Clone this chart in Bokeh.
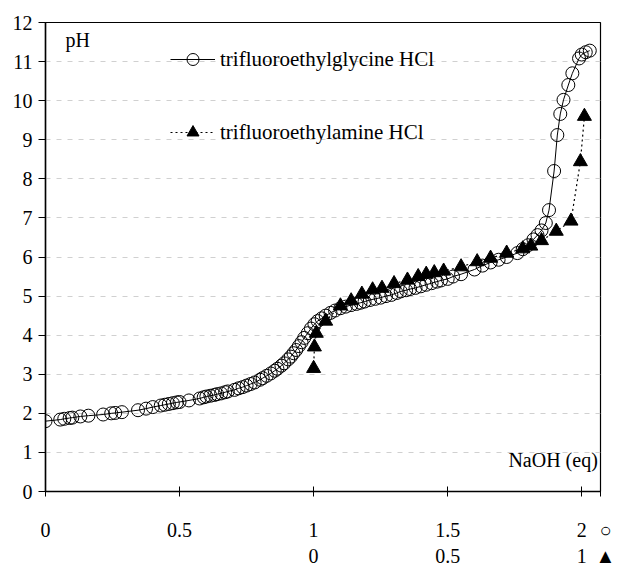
from bokeh.plotting import figure
from bokeh.models import (Range1d, LinearAxis, FixedTicker, CustomJSTickFormatter,
                          Legend, LegendItem, Label)
from bokeh.embed import file_html
from bokeh.resources import INLINE

# trifluoroethylglycine HCl (x = NaOH eq, bottom scale 0..2)
gly_x = [0.0, 0.055, 0.07, 0.09, 0.10, 0.13, 0.16, 0.215, 0.245, 0.26, 0.285, 0.345,
         0.375, 0.40, 0.43, 0.445, 0.46, 0.475, 0.49, 0.50, 0.535, 0.575, 0.59, 0.60,
         0.615, 0.63, 0.64, 0.655, 0.67, 0.68, 0.705, 0.72, 0.735, 0.75, 0.765, 0.78,
         0.80, 0.81, 0.825, 0.84, 0.855, 0.865, 0.88, 0.89, 0.905, 0.915, 0.925, 0.935,
         0.945, 0.955, 0.965, 0.978, 0.99, 1.003, 1.015, 1.03, 1.045, 1.063, 1.08, 1.10,
         1.12, 1.14, 1.16, 1.175, 1.19, 1.21, 1.23, 1.25, 1.27, 1.29, 1.31, 1.325, 1.345,
         1.36, 1.38, 1.40, 1.42, 1.44, 1.46, 1.475, 1.50, 1.52, 1.55, 1.60, 1.63, 1.66,
         1.69, 1.72, 1.76, 1.78, 1.80, 1.82, 1.835, 1.85, 1.866, 1.878, 1.897, 1.909,
         1.92, 1.932, 1.95, 1.965, 1.99, 2.0, 2.015, 2.03]
gly_ph = [1.80, 1.84, 1.86, 1.88, 1.89, 1.92, 1.94, 1.97, 2.0, 2.01, 2.03, 2.08,
          2.12, 2.16, 2.2, 2.22, 2.24, 2.26, 2.28, 2.29, 2.33, 2.38, 2.41, 2.43,
          2.45, 2.47, 2.49, 2.51, 2.54, 2.56, 2.6, 2.64, 2.67, 2.71, 2.75, 2.79,
          2.86, 2.9, 2.96, 3.02, 3.09, 3.14, 3.22, 3.28, 3.38, 3.45, 3.54, 3.62,
          3.72, 3.82, 3.93, 4.05, 4.17, 4.28, 4.36, 4.43, 4.5, 4.57, 4.63, 4.69,
          4.73, 4.77, 4.8, 4.83, 4.86, 4.9, 4.93, 4.96, 5.0, 5.03, 5.08, 5.12, 5.15,
          5.18, 5.21, 5.25, 5.29, 5.33, 5.37, 5.40, 5.44, 5.5, 5.56, 5.68, 5.78, 5.86,
          5.93, 6.0, 6.1, 6.2, 6.3, 6.45, 6.56, 6.68, 6.87, 7.2, 8.2, 9.12,
          9.66, 10.02, 10.4, 10.7, 11.08, 11.18, 11.24, 11.28]

# trifluoroethylamine HCl (x = NaOH eq, lower scale 0..1)
ami_x = [0.0, 0.003, 0.01, 0.045, 0.10, 0.14, 0.18, 0.22, 0.255, 0.30, 0.35, 0.39,
         0.42, 0.45, 0.485, 0.55, 0.61, 0.66, 0.72, 0.78, 0.81, 0.85, 0.905, 0.96,
         0.995, 1.01]
ami_ph = [3.15, 3.70, 4.05, 4.36, 4.75, 4.88, 5.05, 5.16, 5.20, 5.32, 5.41, 5.50,
          5.56, 5.60, 5.64, 5.75, 5.88, 5.97, 6.10, 6.21, 6.28, 6.42, 6.66, 6.92,
          8.44, 9.60]

x_ticks = [0, 0.5, 1, 1.5, 2]
x2_ticks = [0, 0.5, 1]
y_ticks = list(range(0, 13))
scale_marks = ["○", "▲"]   # symbols that identify each x scale

FONT = "Liberation Serif"
FS = "20px"
X_END = 2.07
X2_OFFSET = 1.0

p = figure(width=617, height=569, output_backend="svg", toolbar_location=None,
           x_range=Range1d(0, X_END), y_range=Range1d(0, 12),
           min_border_left=45, min_border_top=22, min_border_right=17, min_border_bottom=76,
           x_axis_type=None)
p.extra_x_ranges = {"tri": Range1d(-X2_OFFSET, X_END - X2_OFFSET)}


def make_fmt(mark, end):
    return CustomJSTickFormatter(args=dict(mark=mark, end=end),
                                 code="return tick >= end - 1e-9 ? '\u2002' + mark : String(tick);")


ax1 = LinearAxis(ticker=FixedTicker(ticks=x_ticks + [X_END]),
                 formatter=make_fmt(scale_marks[0], X_END))
ax1.major_tick_in = 5
ax1.major_tick_out = 5
ax1.minor_tick_line_color = None
ax1.axis_line_width = 1.5
ax1.major_label_standoff = 22
ax1.major_label_text_font = FONT
ax1.major_label_text_font_size = FS
ax1.major_label_text_color = "black"
p.add_layout(ax1, "below")

ax2 = LinearAxis(x_range_name="tri",
                 ticker=FixedTicker(ticks=x2_ticks + [X_END - X2_OFFSET]),
                 formatter=make_fmt(scale_marks[1], X_END - X2_OFFSET))
ax2.axis_line_color = None
ax2.major_tick_line_color = None
ax2.minor_tick_line_color = None
ax2.major_label_standoff = -5
ax2.major_label_text_font = FONT
ax2.major_label_text_font_size = FS
ax2.major_label_text_color = "black"
p.add_layout(ax2, "below")

ya = p.yaxis[0]
ya.ticker = FixedTicker(ticks=y_ticks)
ya.major_tick_in = 0
ya.major_tick_out = 7
ya.minor_tick_line_color = None
ya.axis_line_width = 1.5
ya.major_label_standoff = 6
ya.major_label_text_font = FONT
ya.major_label_text_font_size = FS
ya.major_label_text_color = "black"

p.xgrid.grid_line_color = None
p.ygrid.grid_line_color = "#d0d0d0"
p.ygrid.grid_line_dash = "5 6"
p.ygrid.grid_line_width = 1
p.outline_line_color = "black"
p.outline_line_width = 1.2

l1 = p.line(gly_x, gly_ph, line_color="black", line_width=1)
s1 = p.scatter(gly_x, gly_ph, marker="circle", size=13, fill_color=None,
               line_color="black", line_width=1)
l2 = p.line(ami_x, ami_ph, x_range_name="tri", line_color="black", line_width=1.2,
            line_dash="2 3")
s2 = p.scatter(ami_x, ami_ph, x_range_name="tri", marker="triangle", size=14,
               fill_color="black", line_color="black")

legend = Legend(items=[LegendItem(label="trifluoroethylglycine HCl", renderers=[l1, s1]),
                       LegendItem(label="trifluoroethylamine HCl", renderers=[l2, s2])],
                location=(125, 344), glyph_width=45, glyph_height=30, label_standoff=5,
                spacing=43, padding=0, margin=0, border_line_color=None,
                background_fill_alpha=0, label_text_font=FONT, label_text_font_size="21px",
                label_text_color="black")
p.add_layout(legend)

p.add_layout(Label(x=0.075, y=11.55, text="pH", text_font=FONT, text_font_size=FS,
                   text_baseline="middle", text_color="black"))
p.add_layout(Label(x=2.06, y=0.8, text="NaOH (eq)", text_font=FONT, text_font_size=FS,
                   text_baseline="middle", text_align="right", text_color="black"))

open("out.html", "w").write(file_html(p, INLINE))
